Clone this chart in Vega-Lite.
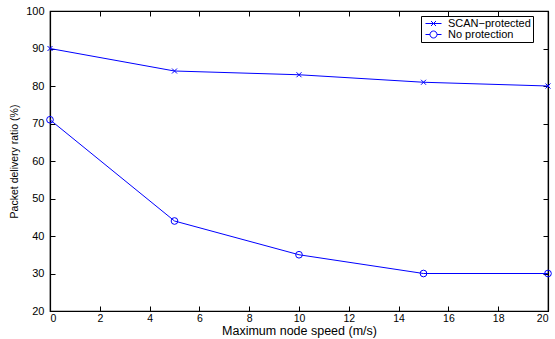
{
  "$schema": "https://vega.github.io/schema/vega-lite/v6.json",
  "autosize": {"type": "none"},
  "padding": {"left": 50, "top": 11, "right": 7, "bottom": 28},
  "width": 498,
  "height": 300,
  "background": "white",
  "config": {
    "font": "Liberation Sans",
    "view": {"stroke": "black", "strokeWidth": 1.2},
    "axis": {
      "domainColor": "black",
      "domainWidth": 1.2,
      "tickColor": "black",
      "labelColor": "black",
      "titleColor": "black",
      "grid": false,
      "tickSize": -5,
      "labelFontSize": 11,
      "labelFont": "Liberation Sans",
      "titleFont": "Liberation Sans",
      "titleFontWeight": "normal"
    }
  },
  "data": {
    "values": [
      {"speed": 0, "ratio": 90, "series": "SCAN−protected", "label": "SCAN−protected"},
      {"speed": 5, "ratio": 84, "series": "SCAN−protected", "label": "SCAN−protected"},
      {"speed": 10, "ratio": 83, "series": "SCAN−protected", "label": "SCAN−protected"},
      {"speed": 15, "ratio": 81, "series": "SCAN−protected", "label": "SCAN−protected"},
      {"speed": 20, "ratio": 80, "series": "SCAN−protected", "label": "SCAN−protected"},
      {"speed": 0, "ratio": 71, "series": "No protection", "label": "No protection"},
      {"speed": 5, "ratio": 44, "series": "No protection", "label": "No protection"},
      {"speed": 10, "ratio": 35, "series": "No protection", "label": "No protection"},
      {"speed": 15, "ratio": 30, "series": "No protection", "label": "No protection"},
      {"speed": 20, "ratio": 30, "series": "No protection", "label": "No protection"}
    ]
  },
  "layer": [
    {
      "mark": {"type": "line", "color": "#0000ff", "strokeWidth": 1},
      "encoding": {
        "x": {"field": "speed", "type": "quantitative",
              "scale": {"domain": [0, 20], "nice": false},
              "axis": {"values": [0,2,4,6,8,10,12,14,16,18,20], "title": "Maximum node speed (m/s)", "titleFontSize": 12.5, "titlePadding": 1, "labelPadding": 7, "labelFontSize": 10.5}},
        "y": {"field": "ratio", "type": "quantitative",
              "scale": {"domain": [20, 100], "nice": false, "zero": false},
              "axis": {"values": [20,30,40,50,60,70,80,90,100], "title": "Packet delivery ratio (%)", "titleFontSize": 10.5, "titlePadding": 6, "labelPadding": 11}},
        "detail": {"field": "series", "type": "nominal"}
      }
    },
    {
      "mark": {"type": "point", "filled": false, "color": "#0000ff", "strokeWidth": 1, "opacity": 1},
      "encoding": {
        "x": {"field": "speed", "type": "quantitative", "axis": null},
        "y": {"field": "ratio", "type": "quantitative", "axis": null},
        "shape": {"field": "series", "type": "nominal",
                  "scale": {"domain": ["SCAN−protected", "No protection"], "range": ["M-1,-1L1,1M-1,1L1,-1", "circle"]},
                  "legend": null},
        "size": {"field": "series", "type": "nominal",
                 "scale": {"domain": ["SCAN−protected", "No protection"], "range": [25, 45]},
                 "legend": null}
      }
    },
    {
      "mark": {"type": "point", "filled": false, "color": "#0000ff", "opacity": 0, "size": 100},
      "encoding": {
        "x": {"field": "speed", "type": "quantitative",
              "axis": {"orient": "top", "labels": false, "title": null, "values": [0,2,4,6,8,10,12,14,16,18,20]}},
        "y": {"field": "ratio", "type": "quantitative",
              "axis": {"orient": "right", "labels": false, "title": null, "values": [20,30,40,50,60,70,80,90,100]}},
        "shape": {"field": "label", "type": "nominal",
                  "scale": {"domain": ["SCAN−protected", "No protection"],
                            "range": ["M-1.6,0L1.6,0M-0.5,-0.5L0.5,0.5M-0.5,0.5L0.5,-0.5", "M-1.6,0L-0.7,0M0.7,0L1.6,0M-0.7,0A0.7,0.7,0,1,1,0.7,0A0.7,0.7,0,1,1,-0.7,0"]},
                  "legend": {"orient": "none", "legendX": 371, "legendY": 5, "title": null,
                             "strokeColor": "black", "fillColor": "white", "padding": 2,
                             "symbolSize": 100, "symbolStrokeColor": "#0000ff", "symbolFillColor": "transparent",
                             "symbolStrokeWidth": 1, "symbolOpacity": 1, "symbolOffset": 5,
                             "labelFontSize": 11, "labelColor": "black", "labelOffset": 9, "rowPadding": -3,
                             "labelFont": "Liberation Sans"}}
      }
    }
  ],
  "resolve": {"scale": {"shape": "independent", "size": "independent"}, "axis": {"x": "independent", "y": "independent"}}
}
